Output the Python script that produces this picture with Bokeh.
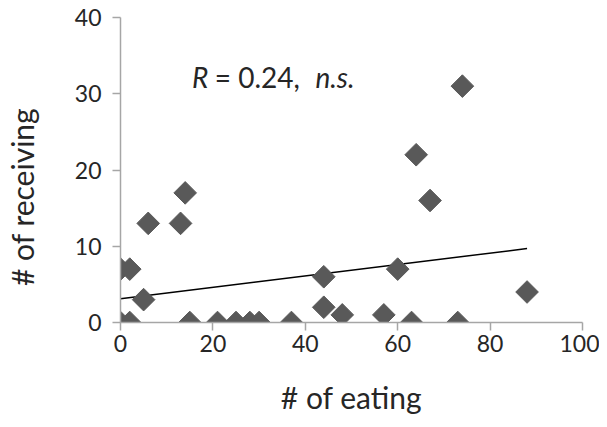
from bokeh.plotting import figure
from bokeh.models import Range1d, Label, FixedTicker
from bokeh.embed import file_html
from bokeh.resources import INLINE

# Data
eating = [0, 2, 0, 2, 5, 6, 13, 14, 15, 21, 25, 28, 30, 37, 44, 44, 48, 57, 60, 63, 64, 67, 73, 74, 88]
receiving = [0, 0, 7, 7, 3, 13, 13, 17, 0, 0, 0, 0, 0, 0, 6, 2, 1, 1, 7, 0, 22, 16, 0, 31, 4]
trend_x = [0, 88]
trend_y = [3.1, 9.7]
x_ticks = [0, 20, 40, 60, 80, 100]
y_ticks = [0, 10, 20, 30, 40]

FONT = "Lato"
TXT = "#262626"
AX = "#a6a6a6"

p = figure(frame_width=462, frame_height=305,
           min_border_left=120, min_border_top=17, min_border_right=17, min_border_bottom=92,
           x_range=Range1d(0, 100), y_range=Range1d(0, 40),
           output_backend="svg", toolbar_location=None)
p.outline_line_color = None
p.xgrid.visible = False
p.ygrid.visible = False
p.background_fill_color = "white"
p.border_fill_color = "white"

for ax, ticks in ((p.xaxis[0], x_ticks), (p.yaxis[0], y_ticks)):
    ax.ticker = FixedTicker(ticks=ticks)
    ax.minor_tick_line_color = None
    ax.major_tick_in = 0
    ax.major_tick_out = 8
    ax.axis_line_color = AX
    ax.major_tick_line_color = AX
    ax.axis_line_width = 1.5
    ax.major_tick_line_width = 1.5
    ax.major_label_text_font = FONT
    ax.major_label_text_font_size = "23px"
    ax.major_label_text_color = TXT
    ax.axis_label_text_font = FONT
    ax.axis_label_text_font_size = "30px"
    ax.axis_label_text_font_style = "normal"
    ax.axis_label_text_color = TXT

p.xaxis.axis_label = "# of eating"
# trailing no-break spaces push the visible title a little below the frame centre, as in the reference
p.yaxis.axis_label = "# of receiving" + "\u00a0" * 7
p.xaxis.major_label_standoff = 4
p.yaxis.major_label_standoff = 11
p.xaxis.axis_label_standoff = 24
p.yaxis.axis_label_standoff = 32

p.line(trend_x, trend_y, line_color="black", line_width=1.5)
p.scatter(eating, receiving, marker="square", size=16, angle=0.785398,
          fill_color="#595959", line_color="#595959", line_width=1)

ly = 32.2
for xx, txt, style in ((15.5, "R", "italic"), (20.4, "= 0.24,", "normal"), (42.2, "n.s.", "italic")):
    p.add_layout(Label(x=xx, y=ly, text=txt, text_font=FONT, text_font_size="28px",
                       text_font_style=style, text_color=TXT, text_baseline="middle"))

open("out.html", "w").write(file_html(p, INLINE))
